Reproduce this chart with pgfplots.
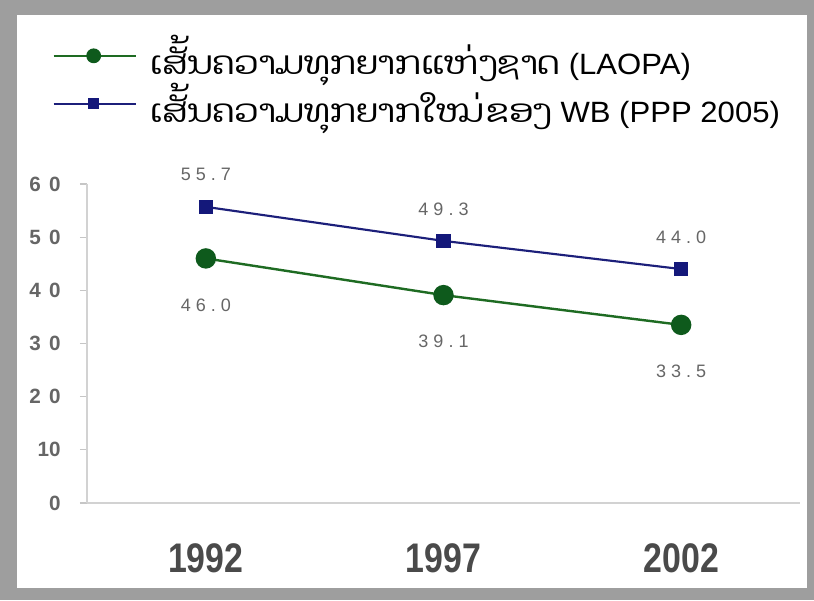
\documentclass[border=0pt]{standalone}
\usepackage{pgfplots}
\pgfplotsset{compat=1.18}
\usepackage{fontspec}
\setmainfont{Liberation Sans}
\newfontfamily\narrowfont[FakeStretch=0.82]{Liberation Sans}
\newfontfamily\wideFont[FakeStretch=1.06]{Liberation Sans}
\newfontfamily\laofont[Script=Lao,FakeStretch=1.1]{Dhyana}
\newfontfamily\spacedfont[LetterSpace=40]{Liberation Sans}
\newfontfamily\lblfont[LetterSpace=28]{Liberation Sans}
\definecolor{bggray}{HTML}{9E9E9E}
\definecolor{lgreen}{HTML}{1E6B22}
\definecolor{mgreen}{HTML}{0E5A1C}
\definecolor{lblue}{HTML}{1C1F7A}
\definecolor{mblue}{HTML}{14187A}
\definecolor{txtgray}{HTML}{4A4A4A}
\definecolor{lblgray}{HTML}{666666}
\begin{document}
\begin{tikzpicture}[x=0.75pt,y=0.75pt]
\fill[bggray] (0,0) rectangle (814,600);
\fill[white] (17,12) rectangle (807,585);
\begin{axis}[
  at={(65.25pt,72.75pt)}, anchor=south west,
  scale only axis, width=534.75pt, height=239.25pt,
  xmin=-0.5, xmax=2.5, ymin=0, ymax=60,
  axis x line*=bottom, axis y line*=left,
  axis line style={gray!35, line width=0.8pt},
  xtick={0,1,2}, xticklabels={1992,1997,2002},
  x tick style={draw=none},
  xticklabel style={font=\narrowfont\bfseries\fontsize{31}{31}\selectfont, text=txtgray, yshift=-22pt},
  ytick={0,10,20,30,40,50,60},
  yticklabels={0,10,{\spacedfont 20},{\spacedfont 30},{\spacedfont 40},{\spacedfont 50},{\spacedfont 60}},
  tick align=outside, major tick length=5.25pt,
  y tick style={gray!45, line width=0.8pt},
  yticklabel style={font=\bfseries\fontsize{15.5}{15.5}\selectfont, text=lblgray, xshift=-11pt},
  legend cell align=left,
  legend style={draw=none, fill=none, at={(axis description cs:-0.05,1.48)}, anchor=north west,
    font=\wideFont\fontsize{22}{28}\selectfont, row sep=1pt, inner sep=1pt},
  legend image code/.code={
    \draw[mark repeat=2,mark phase=2,#1] plot coordinates {(0pt,0pt) (30pt,0pt) (62pt,0pt)};
  },
  point meta=explicit symbolic,
  nodes near coords,
  nodes near coords style={font=\lblfont\fontsize{13.5}{13.5}\selectfont, text=lblgray, anchor=center},
  clip=false,
]
\addplot[color=lgreen, line width=1.8pt, mark=*, mark size=6.75pt,
  mark options={fill=mgreen, draw=mgreen},
  legend image post style={line width=1.1pt, mark size=5pt},
  nodes near coords style={yshift=-35pt}]
  coordinates {(0,46.0)[46.0] (1,39.1)[39.1] (2,33.5)[33.5]};
\addlegendentry{\hspace{8pt}{\laofont\fontsize{24}{28}\selectfont ເສັ້ນຄວາມທຸກຍາກແຫ່ງຊາດ} (LAOPA)}
\addplot[color=lblue, line width=1.6pt, mark=square*, mark size=4.5pt,
  mark options={fill=mblue, draw=mblue},
  legend image post style={line width=1.1pt, mark size=3.5pt},
  nodes near coords style={yshift=24pt}]
  coordinates {(0,55.7)[55.7] (1,49.3)[49.3] (2,44.0)[44.0]};
\addlegendentry{\hspace{8pt}{\laofont\fontsize{24}{28}\selectfont ເສັ້ນຄວາມທຸກຍາກໃໝ່ຂອງ} WB (PPP 2005)}
\end{axis}
\pgfresetboundingbox
\path (0,0) rectangle (814,600);
\end{tikzpicture}
\end{document}
